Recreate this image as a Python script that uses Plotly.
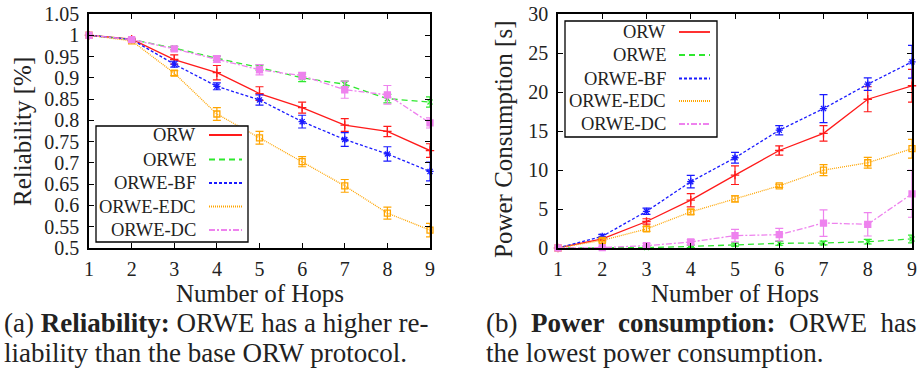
import plotly.graph_objects as go

W, H = 924, 376

hops = [1, 2, 3, 4, 5, 6, 7, 8, 9]
series_names = ["ORW", "ORWE", "ORWE-BF", "ORWE-EDC", "ORWE-DC"]

# Reliability (left panel)
rel_orw = [1.0, 0.991, 0.943, 0.912, 0.863, 0.830, 0.789, 0.774, 0.729]
rel_orwe = [1.0, 0.990, 0.970, 0.946, 0.924, 0.900, 0.885, 0.851, 0.843]
rel_bf = [1.0, 0.990, 0.932, 0.880, 0.848, 0.797, 0.755, 0.721, 0.680]
rel_edc = [1.0, 0.987, 0.911, 0.815, 0.759, 0.703, 0.646, 0.582, 0.542]
rel_dc = [1.0, 0.990, 0.968, 0.944, 0.919, 0.905, 0.872, 0.860, 0.794]
rel_orw_err = [0, 0.002, 0.011, 0.017, 0.016, 0.013, 0.015, 0.012, 0.016]
rel_orwe_err = [0, 0.002, 0.004, 0.005, 0.006, 0.009, 0.007, 0.010, 0.012]
rel_bf_err = [0, 0.002, 0.007, 0.008, 0.012, 0.015, 0.016, 0.017, 0.022]
rel_edc_err = [0, 0.002, 0.006, 0.015, 0.015, 0.012, 0.015, 0.014, 0.016]
rel_dc_err = [0, 0.002, 0.005, 0.008, 0.012, 0.008, 0.020, 0.022, 0.012]

# Power consumption (right panel)
pow_orw = [0.0, 1.16, 3.4, 6.13, 9.34, 12.5, 14.7, 19.07, 20.8]
pow_orwe = [0.0, 0.0, 0.05, 0.2, 0.43, 0.6, 0.64, 0.81, 1.16]
pow_bf = [0.0, 1.5, 4.7, 8.5, 11.57, 15.1, 17.87, 21.0, 23.87]
pow_edc = [0.0, 0.99, 2.44, 4.63, 6.3, 7.97, 9.98, 10.93, 12.73]
pow_dc = [0.0, 0.04, 0.3, 0.77, 1.59, 1.71, 3.2, 3.04, 6.94]
pow_orw_err = [0, 0.2, 0.35, 0.85, 1.2, 0.6, 1.0, 1.6, 2.1]
pow_orwe_err = [0, 0.05, 0.1, 0.15, 0.2, 0.25, 0.25, 0.3, 0.5]
pow_bf_err = [0, 0.25, 0.4, 0.8, 0.7, 0.6, 1.8, 0.8, 2.1]
pow_edc_err = [0, 0.2, 0.3, 0.3, 0.4, 0.2, 0.7, 0.7, 1.2]
pow_dc_err = [0, 0.1, 0.3, 0.3, 0.8, 0.8, 1.7, 1.5, 3.0]

rel_ticks = [0.5, 0.55, 0.6, 0.65, 0.7, 0.75, 0.8, 0.85, 0.9, 0.95, 1.0, 1.05]
rel_tick_text = ["0.5", "0.55", "0.6", "0.65", "0.7", "0.75", "0.8", "0.85", "0.9", "0.95", "1", "1.05"]
pow_ticks = [0, 5, 10, 15, 20, 25, 30]
pow_tick_text = ["0", "5", "10", "15", "20", "25", "30"]

x_title = "Number of Hops"
y_title_left = "Reliability [%]"
y_title_right = "Power Consumption [s]"
caption_a = ["(a) <b>Reliability:</b> ORWE has a higher re-", "liability than the base ORW protocol."]
caption_b = ["(b)\u00a0 <b>Power\u00a0 consumption:</b>\u00a0 ORWE\u00a0 has", "the lowest power consumption."]

colors = ["#ff1a1a", "#2ee82e", "#1a1aff", "#ffa500", "#ee82ee"]
dashes = ["solid", "6px,4px", "3px,2px", "1px,1px", "6px,2px,2px,2px"]
symbols = ["cross-thin", "x-thin", "asterisk", "square-open", "square"]
msizes = [6, 5, 6, 6, 6]

FONT = "Liberation Serif"

fig = go.Figure()

rel = [rel_orw, rel_orwe, rel_bf, rel_edc, rel_dc]
rel_err = [rel_orw_err, rel_orwe_err, rel_bf_err, rel_edc_err, rel_dc_err]
pw = [pow_orw, pow_orwe, pow_bf, pow_edc, pow_dc]
pw_err = [pow_orw_err, pow_orwe_err, pow_bf_err, pow_edc_err, pow_dc_err]

for i, name in enumerate(series_names):
    for xa, ya, ys, es in (("x", "y", rel[i], rel_err[i]), ("x2", "y2", pw[i], pw_err[i])):
        fig.add_trace(go.Scatter(
            x=hops, y=ys, xaxis=xa, yaxis=ya, name=name, mode="lines+markers",
            line=dict(color=colors[i], width=1.3, dash=dashes[i]),
            marker=dict(symbol=symbols[i], size=msizes[i], color=colors[i],
                        line=dict(color=colors[i], width=1.3)),
            error_y=dict(type="data", array=es, visible=True, color=colors[i],
                         thickness=1.2, width=4),
            cliponaxis=False, showlegend=False,
        ))

def px(x):
    return x / W

def py(y):
    return 1 - y / H

axis_common = dict(
    showgrid=False, zeroline=False, showline=True, linecolor="black", linewidth=1.5,
    mirror="allticks", ticks="inside", ticklen=5, tickwidth=1.2, tickcolor="black",
    tickfont=dict(family=FONT, size=20, color="#222"), automargin=False,
)

fig.update_layout(
    width=W, height=H, margin=dict(l=0, r=0, t=0, b=0, autoexpand=False),
    paper_bgcolor="white", plot_bgcolor="white", showlegend=False,
    xaxis=dict(domain=[px(89), px(430)], range=[1, 9], tickvals=hops, anchor="y",
               ticklabelstandoff=2, **axis_common),
    yaxis=dict(domain=[py(248), py(14)], range=[0.5, 1.05], tickvals=rel_ticks,
               ticktext=rel_tick_text, anchor="x", ticklabelstandoff=4, **axis_common),
    xaxis2=dict(domain=[px(558), px(912)], range=[1, 9], tickvals=hops, anchor="y2",
                ticklabelstandoff=2, **axis_common),
    yaxis2=dict(domain=[py(248), py(14)], range=[0, 30], tickvals=pow_ticks,
                ticktext=pow_tick_text, anchor="x2", ticklabelstandoff=4, **axis_common),
)

shapes = []
annotations = []

def legend(x0, y0, x1, y1, text_right, line_x0, line_x1, rows):
    shapes.append(dict(type="rect", xref="paper", yref="paper", x0=px(x0), x1=px(x1),
                       y0=py(y1), y1=py(y0), fillcolor="white",
                       line=dict(color="black", width=1.3), layer="above"))
    for i, ry in enumerate(rows):
        shapes.append(dict(type="line", xref="paper", yref="paper", x0=px(line_x0), x1=px(line_x1),
                           y0=py(ry), y1=py(ry), layer="above",
                           line=dict(color=colors[i], width=1.8, dash=dashes[i])))
        annotations.append(dict(xref="paper", yref="paper", x=px(text_right), y=py(ry),
                                xanchor="right", yanchor="middle", text=series_names[i],
                                showarrow=False, font=dict(family=FONT, size=18.5, color="#222")))

legend(96, 126, 248, 242, 198, 209, 242, [135, 159.5, 183, 206.5, 230])
legend(565, 21, 717, 137, 668, 679, 710, [32, 55, 78.5, 101, 124])

title_font = dict(family=FONT, size=25, color="#222")
annotations.append(dict(xref="paper", yref="paper", x=px(259.5), y=py(293), text=x_title,
                        showarrow=False, xanchor="center", yanchor="middle", font=title_font))
annotations.append(dict(xref="paper", yref="paper", x=px(735), y=py(293), text=x_title,
                        showarrow=False, xanchor="center", yanchor="middle", font=title_font))
annotations.append(dict(xref="paper", yref="paper", x=px(22), y=py(132), text=y_title_left,
                        showarrow=False, textangle=-90, xanchor="center", yanchor="middle",
                        font=title_font))
annotations.append(dict(xref="paper", yref="paper", x=px(503), y=py(139), text=y_title_right,
                        showarrow=False, textangle=-90, xanchor="center", yanchor="middle",
                        font=title_font))

cap_font = dict(family=FONT, size=27, color="#222")
for k, line in enumerate(caption_a):
    annotations.append(dict(xref="paper", yref="paper", x=px(2), y=py(323 + 30 * k), text=line,
                            showarrow=False, xanchor="left", yanchor="middle", font=cap_font))
for k, line in enumerate(caption_b):
    annotations.append(dict(xref="paper", yref="paper", x=px(484), y=py(323 + 30 * k), text=line,
                            showarrow=False, xanchor="left", yanchor="middle", font=cap_font))

fig.update_layout(shapes=shapes, annotations=annotations)

fig.write_html("out.html", config={"displayModeBar": False},
               post_script="document.body.style.margin='0';document.body.style.overflow='hidden';")
